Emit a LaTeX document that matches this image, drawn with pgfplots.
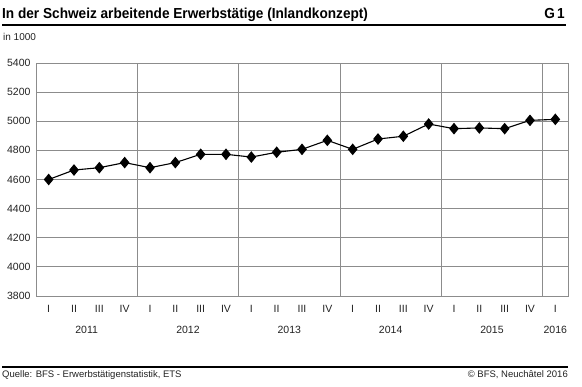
\documentclass[border=0pt]{standalone}
\usepackage{pgfplots}
\pgfplotsset{compat=1.18}
\usepackage{fontspec}
\setmainfont{Liberation Sans}
\definecolor{gridgray}{HTML}{8C8C8C}
\definecolor{txt}{HTML}{222222}
\pgfplotstableread{
x y
0 4600
1 4665
2 4681
3 4716
4 4681
5 4716
6 4773
7 4773
8 4754
9 4787
10 4807
11 4869
12 4807
13 4878
14 4897
15 4981
16 4949
17 4954
18 4949
19 5006
20 5013
}\datatable
\begin{document}
\begin{tikzpicture}[x=1pt,y=1pt]
\path[use as bounding box] (0,0) rectangle (582,387);
\node[anchor=base west, inner sep=0] at (2,368) {\scalebox{0.94}[1]{\fontsize{14.5}{16}\selectfont\bfseries In der Schweiz arbeitende Erwerbstätige (Inlandkonzept)}};
\node[anchor=base east, inner sep=0] at (565,368) {\scalebox{0.94}[1]{\fontsize{14.5}{16}\selectfont\bfseries G\,1}};
\draw[line width=2pt] (2,362) -- (566,362);
\node[anchor=west, inner sep=0, text=txt] at (3,350) {\fontsize{10}{11}\selectfont in 1000};
\draw[line width=1.2pt] (2,20) -- (568,20);
\node[anchor=west, inner sep=0, text=txt] at (2,12) {\fontsize{9.5}{11}\selectfont Quelle: BFS - Erwerbstätigenstatistik, ETS};
\node[anchor=east, inner sep=0, text=txt] at (568,12) {\fontsize{9.5}{11}\selectfont \textcopyright{} BFS, Neuchâtel 2016};
\begin{axis}[
  at={(36pt,91pt)}, anchor=south west,
  width=532pt, height=233pt, scale only axis,
  xmin=-0.5, xmax=20.5, ymin=3800, ymax=5400,
  ytick={3800,4000,4200,4400,4600,4800,5000,5200,5400},
  xtick={0,...,20},
  xticklabels={I,II,III,IV,I,II,III,IV,I,II,III,IV,I,II,III,IV,I,II,III,IV,I},
  extra x ticks={3.5,7.5,11.5,15.5,19.5},
  extra x tick labels={},
  extra x tick style={grid=major},
  major tick length=0pt,
  ymajorgrids,
  grid style={gridgray, line width=0.9pt},
  axis line style={gridgray, line width=0.9pt},
  tick label style={font=\fontsize{10.5}{12}\selectfont, text=txt},
  /pgf/number format/assume math mode=true,
  /pgf/number format/1000 sep={},
  yticklabel style={xshift=-2pt},
  xticklabel style={yshift=-6pt},
  clip=false,
]
\addplot[black, line width=1.1pt, mark=diamond*, mark size=5pt, mark options={fill=black, xscale=1.1}] table[x=x,y=y] {\datatable};
\node[font=\fontsize{10.5}{12}\selectfont, text=txt] at (axis cs:1.5,3800) [yshift=-34pt] {2011};
\node[font=\fontsize{10.5}{12}\selectfont, text=txt] at (axis cs:5.5,3800) [yshift=-34pt] {2012};
\node[font=\fontsize{10.5}{12}\selectfont, text=txt] at (axis cs:9.5,3800) [yshift=-34pt] {2013};
\node[font=\fontsize{10.5}{12}\selectfont, text=txt] at (axis cs:13.5,3800) [yshift=-34pt] {2014};
\node[font=\fontsize{10.5}{12}\selectfont, text=txt] at (axis cs:17.5,3800) [yshift=-34pt] {2015};
\node[font=\fontsize{10.5}{12}\selectfont, text=txt] at (axis cs:20,3800) [yshift=-34pt] {2016};
\end{axis}
\end{tikzpicture}
\end{document}
